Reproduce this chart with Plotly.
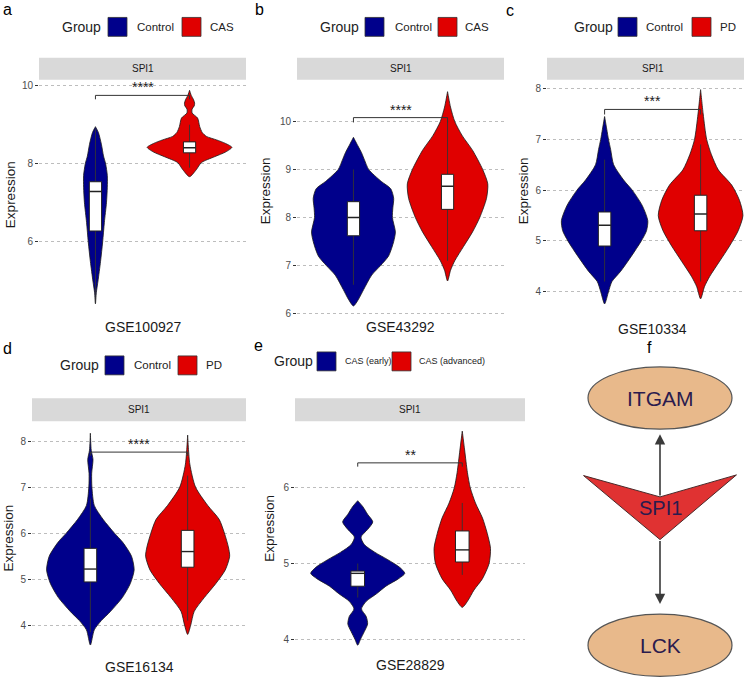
import plotly.graph_objects as go

W, H = 744, 680

# ---------------- data ----------------
panel_letters = ["a", "b", "c", "d", "e"]
datasets = ["GSE100927", "GSE43292", "GSE10334", "GSE16134", "GSE28829"]
gene = "SPI1"
group_labels = [["Control", "CAS"], ["Control", "CAS"], ["Control", "PD"],
                ["Control", "PD"], ["CAS (early)", "CAS (advanced)"]]
significance = ["****", "****", "***", "****", "**"]
bracket_y = [9.75, 10.08, 7.59, 7.76, 6.33]
bracket_tip = [0.1, 0.1, 0.1, 0.08, 0.05]
y_ticks = [[6, 8, 10], [6, 7, 8, 9, 10], [4, 5, 6, 7, 8], [4, 5, 6, 7, 8], [4, 5, 6]]

# violin density profiles: expression level and relative half-width
a_ctrl_lvl = [4.42, 4.7, 5.0, 5.5, 6.0, 6.5, 7.0, 7.4, 7.7, 8.0, 8.2, 8.5, 8.8, 8.95]
a_ctrl_den = [0, 0.02, 0.06, 0.12, 0.17, 0.21, 0.26, 0.28, 0.28, 0.24, 0.19, 0.14, 0.07, 0]
a_case_lvl = [7.67, 7.85, 8.03, 8.18, 8.3, 8.42, 8.52, 8.61, 8.7, 8.8, 8.95, 9.17, 9.3, 9.4,
              9.48, 9.55, 9.65, 9.75, 9.88]
a_case_den = [0, 0.16, 0.28, 0.59, 0.85, 1.0, 0.85, 0.64, 0.4, 0.3, 0.24, 0.19, 0.06, 0.06,
              0.11, 0.12, 0.09, 0.04, 0]

b_ctrl_lvl = [6.16, 6.3, 6.5, 6.8, 7.0, 7.2, 7.5, 7.7, 8.0, 8.2, 8.4, 8.6, 8.75, 9.0, 9.2,
              9.35, 9.5, 9.67]
b_ctrl_den = [0, 0.12, 0.24, 0.43, 0.64, 0.83, 0.95, 0.99, 0.92, 0.93, 0.95, 0.88, 0.66,
              0.36, 0.26, 0.19, 0.1, 0]
b_case_lvl = [6.68, 6.9, 7.1, 7.4, 7.7, 8.0, 8.4, 8.7, 9.0, 9.4, 9.7, 10.0, 10.3, 10.62]
b_case_den = [0, 0.07, 0.17, 0.38, 0.59, 0.76, 0.92, 0.95, 0.83, 0.59, 0.35, 0.17, 0.07, 0]

c_ctrl_lvl = [3.76, 4.0, 4.2, 4.4, 4.7, 5.0, 5.2, 5.4, 5.7, 6.0, 6.2, 6.5, 6.8, 7.0, 7.2, 7.45]
c_ctrl_den = [0, 0.09, 0.17, 0.37, 0.62, 0.85, 0.97, 1.0, 0.87, 0.64, 0.44, 0.21, 0.14,
              0.09, 0.05, 0]
c_case_lvl = [3.86, 4.1, 4.3, 4.6, 4.9, 5.2, 5.5, 5.8, 6.1, 6.4, 6.7, 7.0, 7.5, 7.98]
c_case_den = [0, 0.09, 0.21, 0.44, 0.67, 0.87, 0.98, 0.9, 0.72, 0.41, 0.25, 0.14, 0.06, 0]

d_ctrl_lvl = [3.57, 3.9, 4.1, 4.3, 4.6, 4.9, 5.2, 5.5, 5.8, 6.0, 6.3, 6.6, 7.0, 7.3, 7.6,
              7.8, 8.17]
d_ctrl_den = [0, 0.09, 0.25, 0.46, 0.73, 0.91, 1.0, 0.94, 0.74, 0.55, 0.29, 0.09, 0.035,
              0.03, 0.06, 0.02, 0]
d_case_lvl = [3.8, 4.0, 4.3, 4.6, 4.9, 5.2, 5.5, 5.7, 6.0, 6.3, 6.6, 7.0, 7.5, 8.13]
d_case_den = [0, 0.07, 0.15, 0.38, 0.64, 0.86, 0.96, 0.93, 0.84, 0.72, 0.46, 0.18, 0.05, 0]

e_ctrl_lvl = [3.92, 4.0, 4.1, 4.2, 4.3, 4.4, 4.5, 4.6, 4.7, 4.8, 4.87, 4.95, 5.05, 5.15,
              5.25, 5.35, 5.45, 5.55, 5.65, 5.75, 5.83]
e_ctrl_den = [0, 0.06, 0.14, 0.21, 0.18, 0.08, 0.18, 0.4, 0.6, 0.87, 1.0, 0.89, 0.64, 0.36,
              0.14, 0.07, 0.21, 0.32, 0.21, 0.11, 0]
e_case_lvl = [4.42, 4.5, 4.65, 4.8, 5.0, 5.2, 5.4, 5.6, 5.8, 6.0, 6.2, 6.5, 6.75]
e_case_den = [0, 0.11, 0.25, 0.43, 0.57, 0.6, 0.53, 0.43, 0.28, 0.17, 0.11, 0.05, 0]

# box statistics: q1, median, q3, lower whisker, upper whisker
a_ctrl_box = [6.28, 7.29, 7.54, 4.42, 8.9]
a_case_box = [8.28, 8.41, 8.56, 7.9, 9.0]
b_ctrl_box = [7.62, 8.0, 8.33, 6.6, 9.0]
b_case_box = [8.17, 8.65, 8.9, 7.1, 10.0]
c_ctrl_box = [4.9, 5.31, 5.57, 4.2, 6.6]
c_case_box = [5.2, 5.53, 5.9, 4.2, 6.9]
d_ctrl_box = [4.94, 5.22, 5.67, 3.85, 6.75]
d_case_box = [5.26, 5.6, 6.06, 4.1, 7.25]
e_ctrl_box = [4.7, 4.87, 4.9, 4.55, 5.0]
e_case_box = [5.02, 5.18, 5.43, 4.85, 5.8]

violins = [
    [(a_ctrl_lvl, a_ctrl_den, a_ctrl_box), (a_case_lvl, a_case_den, a_case_box)],
    [(b_ctrl_lvl, b_ctrl_den, b_ctrl_box), (b_case_lvl, b_case_den, b_case_box)],
    [(c_ctrl_lvl, c_ctrl_den, c_ctrl_box), (c_case_lvl, c_case_den, c_case_box)],
    [(d_ctrl_lvl, d_ctrl_den, d_ctrl_box), (d_case_lvl, d_case_den, d_case_box)],
    [(e_ctrl_lvl, e_ctrl_den, e_ctrl_box), (e_case_lvl, e_case_den, e_case_box)],
]

# network (panel f)
net_nodes = ["ITGAM", "SPI1", "LCK"]
net_x = [0, 0, 0]
net_y = [0.824, 0.5, 0.094]
net_edges = [("SPI1", "ITGAM"), ("SPI1", "LCK")]

# ---------------- style / layout ----------------
FONT = "Liberation Sans, Arial, Helvetica, sans-serif"
COLORS = ["#00008B", "#E00000"]
HALF = 0.45
BOXW = 0.13

panels = [
    dict(x0=39, x1=246, y0=80, y1=313, cal=((10, 86), (6, 243)), xr=[0.4, 2.6], sy=(58, 80),
         ytitle=(10, 196), xtitle=328, legfs=11.5,
         leg=(60, 108, 135, 182, 208, 27), letter=(1, 10)),
    dict(x0=297, x1=504, y0=80, y1=318, cal=((10, 122), (6, 315)), xr=[0.4, 2.6], sy=(58, 80),
         ytitle=(265, 192), xtitle=328, legfs=11.5,
         leg=(318, 365, 393, 438, 463, 27), letter=(253, 10)),
    dict(x0=547, x1=744, y0=80, y1=313, cal=((8, 89), (4, 293)), xr=[0.4, 0.4 + 197 / 96],
         sy=(58, 80), ytitle=(523, 192), xtitle=330, legfs=11.5,
         leg=(572, 618, 644, 692, 718, 27), letter=(504, 11)),
    dict(x0=32, x1=246, y0=423, y1=652, cal=((8, 443), (4, 628)), xr=[0.4, 2.6], sy=(400, 423),
         ytitle=(9, 541), xtitle=670, legfs=11.5,
         leg=(58, 105, 132, 178, 204, 367), letter=(1, 350)),
    dict(x0=295, x1=525, y0=423, y1=652, cal=((6, 490), (4, 642)), xr=[0.4, 2.6], sy=(400, 423),
         ytitle=(270, 531), xtitle=668, legfs=9,
         leg=(272, 317, 343, 392, 417, 363), letter=(252, 347)),
]


def px(xp):
    return xp / W


def py(yp):
    return 1 - yp / H


def text(t, x, y, size, color="#1A1A1A", xref="paper", yref="paper", xanchor="center",
         yanchor="middle", **kw):
    d = dict(text=t, x=x, y=y, xref=xref, yref=yref, xanchor=xanchor, yanchor=yanchor,
             showarrow=False, font=dict(size=size, color=color, family=FONT))
    d.update(kw)
    return d


fig = go.Figure()
shapes = []
annotations = []
layout = {}

for i, p in enumerate(panels):
    xk = "x" if i == 0 else f"x{i + 1}"
    yk = "y" if i == 0 else f"y{i + 1}"
    (v1, p1), (v2, p2) = p["cal"]
    upp = (v1 - v2) / (p2 - p1)
    ytop = v1 + (p1 - p["y0"]) * upp
    ybot = v2 - (p["y1"] - p2) * upp
    layout["xaxis" if i == 0 else f"xaxis{i + 1}"] = dict(
        domain=[px(p["x0"]), px(p["x1"])], range=p["xr"], anchor=yk,
        showgrid=False, zeroline=False, showticklabels=False, ticks="", showline=False)
    layout["yaxis" if i == 0 else f"yaxis{i + 1}"] = dict(
        domain=[py(p["y1"]), py(p["y0"])], range=[ybot, ytop], anchor=xk,
        tickvals=y_ticks[i], ticks="outside", ticklen=3, tickwidth=1, tickcolor="#333333",
        tickfont=dict(size=10, color="#4D4D4D", family=FONT),
        showgrid=True, gridcolor="#BDBDBD", griddash="dot", gridwidth=1,
        zeroline=False, showline=False)

    for g, (lvl, den, box) in enumerate(violins[i]):
        pos = g + 1
        xs = [pos + HALF * d for d in den] + [pos - HALF * d for d in den[::-1]]
        ys = list(lvl) + list(lvl[::-1])
        fig.add_trace(go.Scatter(
            x=xs, y=ys, mode="lines", fill="toself", fillcolor=COLORS[g],
            line=dict(color="#1A1A1A", width=0.8, shape="spline", smoothing=0.7),
            xaxis=xk, yaxis=yk, showlegend=False, hoverinfo="skip"))
        q1, med, q3, lo, hi = box
        # whiskers
        fig.add_trace(go.Scatter(
            x=[pos, pos, None, pos, pos], y=[lo, q1, None, q3, hi], mode="lines",
            line=dict(color="#333333", width=0.9), xaxis=xk, yaxis=yk,
            showlegend=False, hoverinfo="skip"))
        # box body
        bl, br = pos - BOXW / 2, pos + BOXW / 2
        fig.add_trace(go.Scatter(
            x=[bl, br, br, bl, bl], y=[q1, q1, q3, q3, q1], mode="lines", fill="toself",
            fillcolor="white", line=dict(color="#222222", width=1), xaxis=xk, yaxis=yk,
            showlegend=False, hoverinfo="skip"))
        # median
        fig.add_trace(go.Scatter(
            x=[bl, br], y=[med, med], mode="lines", line=dict(color="#222222", width=1.4),
            xaxis=xk, yaxis=yk, showlegend=False, hoverinfo="skip"))

    # strip
    shapes.append(dict(type="rect", xref=f"{xk} domain", x0=0, x1=1, yref="paper",
                       y0=py(p["sy"][1]), y1=py(p["sy"][0]), fillcolor="#D9D9D9",
                       line=dict(width=0), layer="below"))
    annotations.append(text(gene, 1.5, py((p["sy"][0] + p["sy"][1]) / 2), 10, xref=xk))
    # significance bracket
    by, tip = bracket_y[i], bracket_tip[i]
    shapes.append(dict(type="path", xref=xk, yref=yk,
                       path=f"M 1,{by - tip} L 1,{by} L 2,{by} L 2,{by - tip}",
                       line=dict(color="#333333", width=1)))
    annotations.append(text(significance[i], 1.5, by, 14, xref=xk, yref=yk,
                            yanchor="bottom", yshift=-2))
    # axis titles
    annotations.append(text(datasets[i], 1.5, py(p["xtitle"]), 14, xref=xk))
    annotations.append(text("Expression", px(p["ytitle"][0]), py(p["ytitle"][1]), 13.5,
                            textangle=-90))
    # legend
    gx, s1, l1, s2, l2, ly = p["leg"]
    annotations.append(text("Group", px(gx), py(ly), 14, color="#222222", xanchor="left"))
    for g, (sx, lx) in enumerate([(s1, l1), (s2, l2)]):
        shapes.append(dict(type="rect", xref="paper", yref="paper",
                           x0=px(sx), x1=px(sx + 19), y0=py(ly + 9.5), y1=py(ly - 9.5),
                           fillcolor=COLORS[g], line=dict(color="#333333", width=0.8)))
        annotations.append(text(group_labels[i][g], px(lx), py(ly), p["legfs"],
                                color="#222222", xanchor="left"))
    # panel letter
    annotations.append(text(panel_letters[i], px(p["letter"][0]), py(p["letter"][1]), 16,
                            color="#000000", xanchor="left"))

# ---------------- panel f: network ----------------
layout["xaxis6"] = dict(domain=[px(576), 1], range=[-1, 1], anchor="y6", visible=False)
layout["yaxis6"] = dict(domain=[0, py(340)], range=[0, 1], anchor="x6", visible=False)
RX, RY = 0.857, 0.092
NODE_TXT = "#2B1B4E"
node_pos = {n: (net_x[k], net_y[k]) for k, n in enumerate(net_nodes)}
for n in net_nodes:
    x, y = node_pos[n]
    if n == gene:
        shapes.append(dict(type="path", xref="x6", yref="y6",
                           path=(f"M {x - 0.91},{y + 0.095} L {x},{y + 0.032} "
                                 f"L {x + 0.91},{y + 0.097} L {x},{y - 0.094} Z"),
                           fillcolor="#E03232", line=dict(color="#4A2A2A", width=1)))
    else:
        shapes.append(dict(type="circle", xref="x6", yref="y6",
                           x0=x - RX, x1=x + RX, y0=y - RY, y1=y + RY,
                           fillcolor="#E8B98B", line=dict(color="#555555", width=1.2)))
for src, dst in net_edges:
    sx, sy = node_pos[src]
    dx, dy = node_pos[dst]
    up = dy > sy
    tail_y = sy + (0.032 if up else -0.094)
    head_y = dy - RY if up else dy + RY
    annotations.append(dict(x=dx, y=head_y, ax=sx, ay=tail_y, xref="x6", yref="y6",
                            axref="x6", ayref="y6", showarrow=True, arrowhead=2,
                            arrowsize=1.3, arrowwidth=1.6, arrowcolor="#3A3A3A",
                            standoff=5 if up else 10, text=""))
for n in net_nodes:
    x, y = node_pos[n]
    annotations.append(text(n, x, y, 21 if n != gene else 20, color=NODE_TXT,
                            xref="x6", yref="y6"))
annotations.append(text("f", px(645), py(349), 16, color="#000000", xanchor="left"))

fig.update_layout(**layout)
fig.update_layout(width=W, height=H, margin=dict(l=0, r=0, t=0, b=0),
                  plot_bgcolor="white", paper_bgcolor="white", showlegend=False,
                  shapes=shapes, annotations=annotations, font=dict(family=FONT))
fig.write_html("out.html", config={"displayModeBar": False},
               post_script="document.body.style.margin='0';document.body.style.overflow='hidden';")
